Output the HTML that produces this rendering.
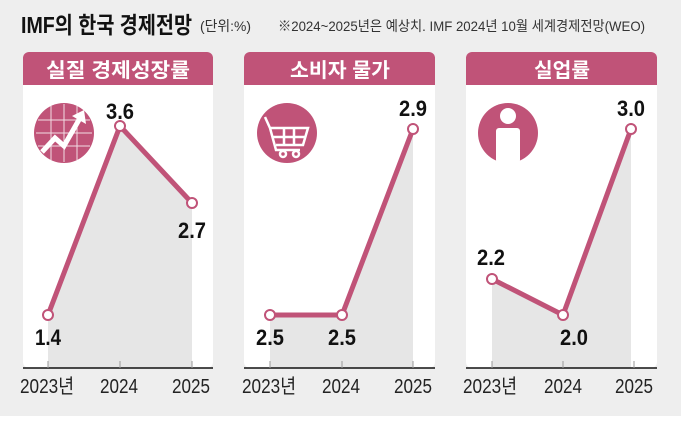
<!DOCTYPE html>
<html><head><meta charset="utf-8"><style>
body{margin:0;width:681px;height:446px;background:#fff;overflow:hidden;font-family:"Liberation Sans","Noto Sans CJK KR",sans-serif}
</style></head><body>
<svg width="681" height="446" xmlns="http://www.w3.org/2000/svg" style="position:absolute;left:0;top:0;font-family:'Liberation Sans','Noto Sans CJK KR',sans-serif">
<rect x="0" y="0" width="681" height="416" fill="#eeeeee"/>
<text x="21" y="33" font-size="23" font-weight="bold" fill="#111" textLength="171" lengthAdjust="spacingAndGlyphs">IMF의 한국 경제전망</text>
<text x="200" y="31" font-size="14" fill="#333" textLength="51" lengthAdjust="spacingAndGlyphs">(단위:%)</text>
<text x="278" y="31" font-size="14" fill="#333" textLength="367" lengthAdjust="spacingAndGlyphs">※2024~2025년은 예상치. IMF 2024년 10월 세계경제전망(WEO)</text>

<g id="p1">
<rect x="23" y="52" width="190" height="316" rx="6" fill="#fff"/>
<path d="M23 85 V58 a6 6 0 0 1 6 -6 H207 a6 6 0 0 1 6 6 V85 Z" fill="#c05378"/>
<text x="118" y="77" font-size="20" font-weight="bold" fill="#fff" text-anchor="middle" textLength="144" lengthAdjust="spacingAndGlyphs">실질 경제성장률</text>
<polygon points="48,315 120,126 192,203 192,368 48,368" fill="#e6e6e6"/>
<polyline points="48,315 120,126 192,203" fill="none" stroke="#c05378" stroke-width="5"/>
<g fill="#fff" stroke="#c05378" stroke-width="2"><circle cx="48" cy="315" r="5"/><circle cx="120" cy="126" r="5"/><circle cx="192" cy="203" r="5"/></g>
<circle cx="64" cy="133" r="30" fill="#c05378"/>
<g stroke="#fff" stroke-width="1" opacity="0.8"><path d="M38 120H90M36 133H92M38 146H90M51 106V160M64 104V162M77 106V160"/></g>
<polyline points="42,152 55,138 64,146 80,118" fill="none" stroke="#fff" stroke-width="5"/>
<polygon points="84,110 72,116 86,124" fill="#fff"/>
<g font-size="22" font-weight="bold" text-anchor="middle" fill="#111">
<text x="120" y="119" textLength="28" lengthAdjust="spacingAndGlyphs">3.6</text>
<text x="48" y="345" textLength="26" lengthAdjust="spacingAndGlyphs">1.4</text>
<text x="192" y="238" textLength="28" lengthAdjust="spacingAndGlyphs">2.7</text>
</g>
</g>

<g id="p2">
<rect x="244" y="52" width="191" height="316" rx="6" fill="#fff"/>
<path d="M244 85 V58 a6 6 0 0 1 6 -6 H429 a6 6 0 0 1 6 6 V85 Z" fill="#c05378"/>
<text x="340" y="77" font-size="20" font-weight="bold" fill="#fff" text-anchor="middle" textLength="100" lengthAdjust="spacingAndGlyphs">소비자 물가</text>
<polygon points="270,315 342,315 413,129 413,368 270,368" fill="#e6e6e6"/>
<polyline points="270,315 342,315 413,129" fill="none" stroke="#c05378" stroke-width="5"/>
<g fill="#fff" stroke="#c05378" stroke-width="2"><circle cx="270" cy="315" r="5"/><circle cx="342" cy="315" r="5"/><circle cx="413" cy="129" r="5"/></g>
<circle cx="287" cy="133" r="30" fill="#c05378"/>
<g stroke="#fff" stroke-width="2.5" fill="none"><path d="M265 117 L270 128 L276 150 H300 M270 128 H308 L303 145 H276 M273 137 H305 M284 128 V145 M294 128 V145"/><circle cx="283" cy="154" r="3"/><circle cx="296" cy="154" r="3"/></g>
<g font-size="22" font-weight="bold" text-anchor="middle" fill="#111">
<text x="413" y="116" textLength="28" lengthAdjust="spacingAndGlyphs">2.9</text>
<text x="270" y="345" textLength="28" lengthAdjust="spacingAndGlyphs">2.5</text>
<text x="342" y="345" textLength="28" lengthAdjust="spacingAndGlyphs">2.5</text>
</g>
</g>

<g id="p3">
<rect x="466" y="52" width="191" height="316" rx="6" fill="#fff"/>
<path d="M466 85 V58 a6 6 0 0 1 6 -6 H651 a6 6 0 0 1 6 6 V85 Z" fill="#c05378"/>
<text x="562" y="77" font-size="20" font-weight="bold" fill="#fff" text-anchor="middle" textLength="56" lengthAdjust="spacingAndGlyphs">실업률</text>
<polygon points="492,279 563,315 631,129 631,368 492,368" fill="#e6e6e6"/>
<polyline points="492,279 563,315 631,129" fill="none" stroke="#c05378" stroke-width="5"/>
<g fill="#fff" stroke="#c05378" stroke-width="2"><circle cx="492" cy="279" r="5"/><circle cx="563" cy="315" r="5"/><circle cx="631" cy="129" r="5"/></g>
<circle cx="508" cy="133" r="30" fill="#c05378"/>
<circle cx="508" cy="116" r="8" fill="#fff"/>
<rect x="496" y="128" width="24" height="35" rx="3" fill="#fff"/>
<g font-size="22" font-weight="bold" text-anchor="middle" fill="#111">
<text x="631" y="116" textLength="28" lengthAdjust="spacingAndGlyphs">3.0</text>
<text x="491" y="265" textLength="28" lengthAdjust="spacingAndGlyphs">2.2</text>
<text x="574" y="345" textLength="28" lengthAdjust="spacingAndGlyphs">2.0</text>
</g>
</g>

<g stroke="#111" stroke-width="1.5">
<path d="M23 368H213M244 368H435M466 368H657"/>
</g>
<g stroke="#999" stroke-width="1">
<path d="M48 361V368M120 361V368M192 361V368M270 361V368M342 361V368M413 361V368M492 361V368M563 361V368M634 361V368"/>
</g>
<g font-size="20" fill="#222" text-anchor="middle">
<text x="47" y="393" textLength="54" lengthAdjust="spacingAndGlyphs">2023년</text><text x="119" y="393" textLength="38" lengthAdjust="spacingAndGlyphs">2024</text><text x="191" y="393" textLength="38" lengthAdjust="spacingAndGlyphs">2025</text>
<text x="269" y="393" textLength="54" lengthAdjust="spacingAndGlyphs">2023년</text><text x="341" y="393" textLength="38" lengthAdjust="spacingAndGlyphs">2024</text><text x="413" y="393" textLength="38" lengthAdjust="spacingAndGlyphs">2025</text>
<text x="490" y="393" textLength="54" lengthAdjust="spacingAndGlyphs">2023년</text><text x="563" y="393" textLength="38" lengthAdjust="spacingAndGlyphs">2024</text><text x="634" y="393" textLength="38" lengthAdjust="spacingAndGlyphs">2025</text>
</g>
</svg>
</body></html>
